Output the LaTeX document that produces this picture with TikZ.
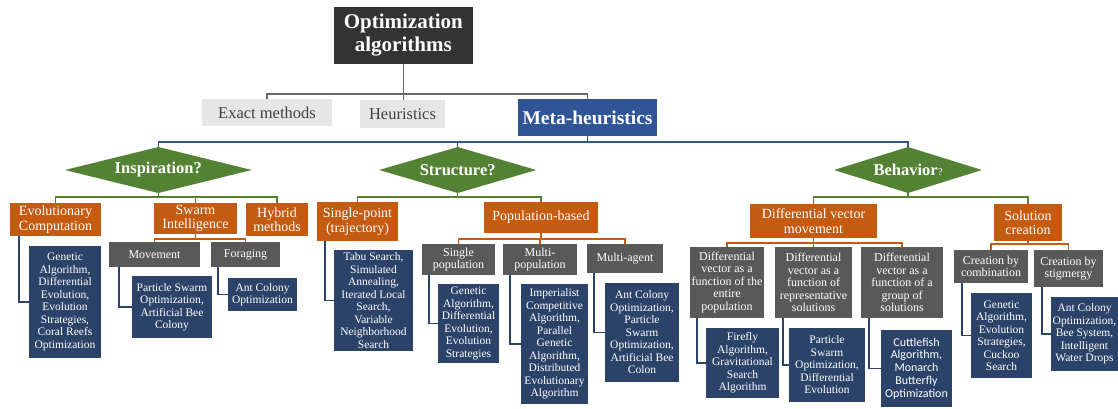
\documentclass[tikz,border=0pt]{standalone}
\usepackage{fontspec}
\setmainfont{Liberation Serif}
\newfontfamily\carl{Carlito}
\usetikzlibrary{shapes.geometric}
\definecolor{orng}{HTML}{C55A11}
\definecolor{grn}{HTML}{548235}
\definecolor{blu}{HTML}{2F5597}
\definecolor{nav}{HTML}{2C4369}
\definecolor{gry}{HTML}{595959}
\definecolor{topc}{HTML}{333333}
\definecolor{lgc}{HTML}{E7E6E6}
\definecolor{dtext}{HTML}{404040}
\definecolor{lnc}{HTML}{666666}
\begin{document}
\begin{tikzpicture}[x=1pt,y=-1pt,
  every node/.style={inner sep=0pt,outer sep=0pt,align=center},
  sz/.style 2 args={minimum width=#1pt,minimum height=#2pt},
  topbox/.style={rectangle,fill=topc,text=white,font=\bfseries\fontsize{21}{23}\selectfont},
  lgbox/.style={rectangle,fill=lgc,text=dtext,font=\fontsize{16.5}{18}\selectfont},
  metabox/.style={rectangle,fill=blu,text=white,font=\bfseries\fontsize{19.5}{22}\selectfont},
  dia/.style={diamond,aspect=4,fill=grn,text=white,font=\bfseries\fontsize{16.5}{18}\selectfont},
  obox/.style={rectangle,fill=orng,text=white,font=\fontsize{14}{14.5}\selectfont},
  gbox/.style={rectangle,fill=gry,text=white,font=\fontsize{12}{12.5}\selectfont},
  leaf/.style={rectangle,fill=nav,text=white,font=\fontsize{11.5}{12.5}\selectfont},
  gl/.style={draw=lnc,line width=1.4pt},
  bl/.style={draw=blu,line width=1.4pt},
  gr/.style={draw=grn,line width=1.4pt},
  ol/.style={draw=orng,line width=1.4pt},
  nl/.style={draw=nav,line width=1.4pt}]
\useasboundingbox (0,0) rectangle (1118,408);

% level 0-1
\node[topbox,sz={139}{57}] (top) at (403.3,35.5) {Optimization\\algorithms};
\node[lgbox,sz={130}{27}] (exact) at (267,112.5) {Exact methods};
\node[lgbox,sz={85}{28}] (heur) at (402.5,114) {Heuristics};
\node[metabox,sz={139}{37}] (meta) at (587.5,117.5) {Meta-heuristics};

\draw[gl] (top.south) -- (top.south |- heur.north);
\draw[gl] (exact.north) -- ++(0,-5) -| (meta.north);

% diamonds
\node[dia,sz={187}{46}] (insp) at (158.3,170) {Inspiration?};
\node[dia,sz={157}{46}] (struct) at (457.7,170) {Structure?};
\node[dia,sz={148}{46}] (beh) at (908,170) {Behavior{\mdseries\fontsize{10.5}{10}\selectfont ?}};

\draw[bl] (meta.south) -- ++(0,5.5);
\draw[bl] (insp.north) -- ++(0,-5) -| (beh.north);
\draw[bl] (struct.north) -- ++(0,-5);

% Inspiration branch
\node[obox,sz={91}{33}] (evo) at (55.5,219.5) {Evolutionary\\Computation};
\node[obox,sz={83}{31}] (swarm) at (195.5,218.5) {Swarm\\Intelligence};
\node[obox,sz={62}{33}] (hyb) at (277,219.5) {Hybrid\\methods};
\draw[gr] (insp.south) -- ++(0,4);
\draw[gr] (evo.north) -- ++(0,-6) -| (hyb.north);
\draw[gr] (swarm.north) -- ++(0,-6);

\node[gbox,sz={91}{25}] (mov) at (154.5,254.5) {Movement};
\node[gbox,sz={69}{25}] (for) at (245.5,254.5) {Foraging};
\draw[ol] (swarm.south) -- ++(0,5);
\draw[ol] (mov.north) -- ++(0,-3) -| (for.north);

\node[leaf,sz={72}{112}] (evoL) at (65,302) {Genetic\\Algorithm,\\Differential\\Evolution,\\Evolution\\Strategies,\\Coral Reefs\\Optimization};
\node[leaf,sz={80}{62}] (movL) at (172,307) {Particle Swarm\\Optimization,\\Artificial Bee\\Colony};
\node[leaf,sz={69}{33}] (forL) at (262.5,294.5) {Ant Colony\\Optimization};
\draw[nl] ([xshift=9pt]evo.south west) |- (evoL.west);
\draw[nl] ([xshift=10pt]mov.south west) |- (movL.west);
\draw[nl] ([xshift=7pt]for.south west) |- (forL.west);

% Structure branch
\node[obox,sz={81}{39}] (sp) at (357.5,221.5) {Single-point\\(trajectory)};
\node[obox,sz={114}{31}] (pop) at (541,217.5) {Population-based};
\draw[gr] (struct.south) -- ++(0,4);
\draw[gr] (sp.north) -- ++(0,-5) -| (pop.north);

\node[leaf,sz={79}{101}] (spL) at (373.5,300.5) {Tabu Search,\\Simulated\\Annealing,\\Iterated Local\\Search,\\Variable\\Neighborhood\\Search};
\draw[nl] ([xshift=8pt]sp.south west) |- (spL.west);

\node[gbox,sz={73}{31}] (sgl) at (458.5,259.5) {Single\\population};
\node[gbox,sz={74}{31}] (mlt) at (540,259.5) {Multi-\\population};
\node[gbox,sz={76}{29}] (mag) at (625,258.5) {Multi-agent};
\draw[ol] (pop.south) -- ++(0,6);
\draw[ol] (sgl.north) -- ++(0,-5) -| (mag.north);
\draw[ol] (mlt.north) -- ++(0,-5);

\node[leaf,sz={61}{79}] (sglL) at (468.5,323.5) {Genetic\\Algorithm,\\Differential\\Evolution,\\Evolution\\Strategies};
\node[leaf,sz={67}{120}] (mltL) at (554.5,344) {Imperialist\\Competitive\\Algorithm,\\Parallel\\Genetic\\Algorithm,\\Distributed\\Evolutionary\\Algorithm};
\node[leaf,sz={74}{99}] (magL) at (642,332.5) {Ant Colony\\Optimization,\\Particle\\Swarm\\Optimization,\\Artificial Bee\\Colon};
\draw[nl] ([xshift=7pt]sgl.south west) |- (sglL.west);
\draw[nl] ([xshift=7pt]mlt.south west) |- (mltL.west);
\draw[nl] ([xshift=7pt]mag.south west) |- (magL.west);

% Behavior branch
\node[obox,sz={127}{34}] (dvm) at (813.5,221) {Differential vector\\movement};
\node[obox,sz={68}{37}] (sc) at (1028,222.5) {Solution\\creation};
\draw[gr] (beh.south) -- ++(0,4);
\draw[gr] (dvm.north) -- ++(0,-7) -| (sc.north);

\node[gbox,sz={74}{71}] (d1) at (727,282.5) {Differential\\vector as a\\function of the\\entire\\population};
\node[gbox,sz={77}{71}] (d2) at (813.5,282.5) {Differential\\vector as a\\function of\\representative\\solutions};
\node[gbox,sz={82}{71}] (d3) at (902,282.5) {Differential\\vector as a\\function of a\\group of\\solutions};
\draw[ol] (dvm.south) -- ++(0,5);
\draw[ol] (d1.north) -- ++(0,-4) -| (d3.north);
\draw[ol] (d2.north) -- ++(0,-4);

\node[leaf,sz={73}{70}] (d1L) at (742.5,363) {Firefly\\Algorithm,\\Gravitational\\Search\\Algorithm};
\node[leaf,sz={76}{74}] (d2L) at (827,365) {Particle\\Swarm\\Optimization,\\Differential\\Evolution};
\node[leaf,sz={71}{77},font=\carl\fontsize{12}{12.8}\selectfont] (d3L) at (916.5,368.5) {Cuttlefish\\Algorithm,\\Monarch\\Butterfly\\Optimization};
\draw[nl] ([xshift=7pt]d1.south west) |- (d1L.west);
\draw[nl] ([xshift=8pt]d2.south west) |- (d2L.west);
\draw[nl] ([xshift=8pt]d3.south west) |- (d3L.west);

\node[gbox,sz={74}{33}] (cc) at (991,266.5) {Creation by\\combination};
\node[gbox,sz={69}{37}] (cs) at (1068.5,268.5) {Creation by\\stigmergy};
\draw[ol] (sc.south) -- ++(0,3);
\draw[ol] (cc.north) -- ++(0,-6) -| (cs.north);

\node[leaf,sz={61}{85}] (ccL) at (1001.5,335.5) {Genetic\\Algorithm,\\Evolution\\Strategies,\\Cuckoo\\Search};
\node[leaf,sz={67}{74}] (csL) at (1084.5,334) {Ant Colony\\Optimization,\\Bee System,\\Intelligent\\Water Drops};
\draw[nl] ([xshift=8pt]cc.south west) |- (ccL.west);
\draw[nl] ([xshift=8pt]cs.south west) |- (csL.west);
\end{tikzpicture}
\end{document}
